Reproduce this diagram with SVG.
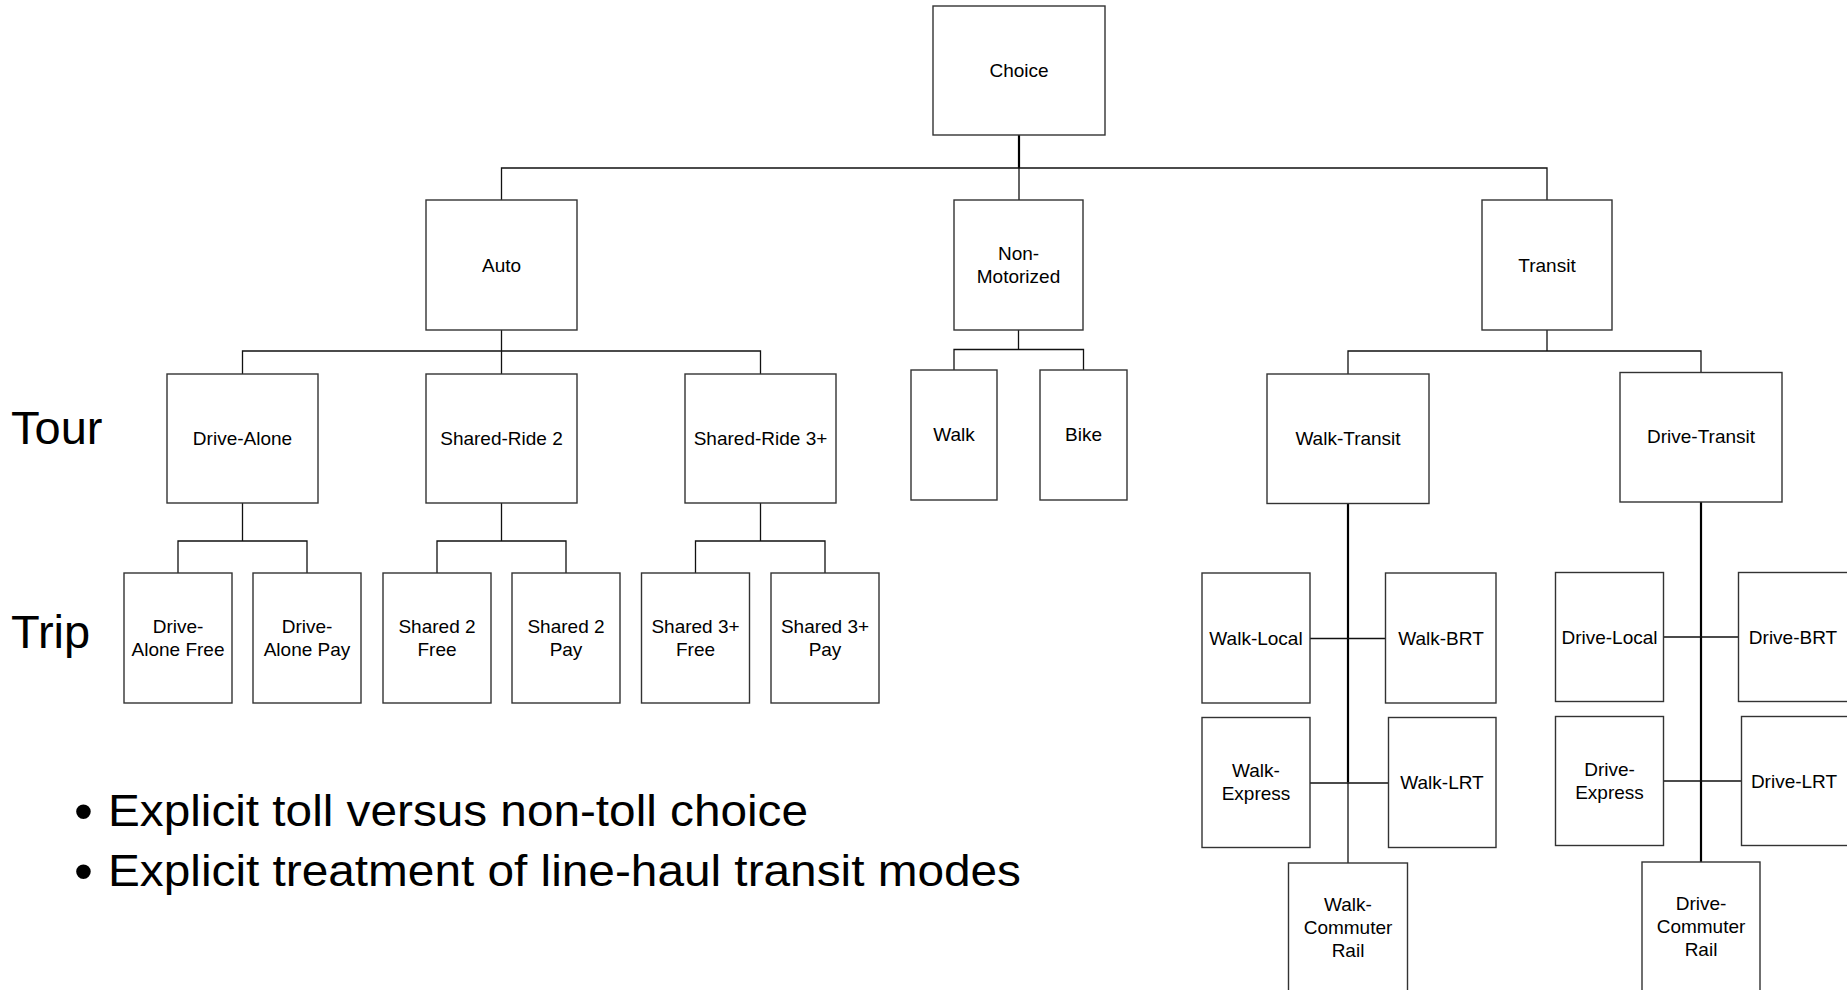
<svg xmlns="http://www.w3.org/2000/svg" width="1847" height="990" viewBox="0 0 1847 990">
<style>
.box{fill:#fff;stroke:#333;stroke-width:1.4}
.lbl{font-family:"Liberation Sans",Arial,sans-serif;font-size:19px;fill:#000;text-anchor:middle}
.big{font-family:"Liberation Sans",Arial,sans-serif;font-size:47px;fill:#000}
.bul{font-family:"Liberation Sans",Arial,sans-serif;font-size:45px;fill:#000}
.dot{font-family:"Liberation Sans",Arial,sans-serif;font-size:54px;fill:#000}
.ln{fill:none;stroke:#111;stroke-width:1.3}
.trunk{fill:none;stroke:#000;stroke-width:2.2}
</style>
<rect width="1847" height="990" fill="#fff"/>
<g id="connectors">
<path class="trunk" d="M1019 135V168"/>
<path class="ln" d="M501.5 200V168H1547V200M1019 168V200"/>
<path class="ln" d="M501.5 330V351M242.5 374V351H760.5V374M501.5 351V374"/>
<path class="ln" d="M1018.5 330V349.5M954 370V349.5H1083.5V370"/>
<path class="ln" d="M1547 330V351M1348 374V351H1701V372.5"/>
<path class="ln" d="M242.5 503V541M178 573V541H307V573"/>
<path class="ln" d="M501.5 503V541M437 573V541H566V573"/>
<path class="ln" d="M760.5 503V541M695.5 573V541H825V573"/>
<path class="trunk" d="M1348 503.5V782"/>
<path class="ln" d="M1348 782V863"/>
<path class="ln" d="M1310 638.5H1385.5M1310 783H1388.5"/>
<path class="trunk" d="M1701 502V862"/>
<path class="ln" d="M1663.5 637H1738.5M1663.5 781H1741.5"/>
</g>
<g id="choice"><rect class="box" x="933" y="6" width="172" height="129"/><text class="lbl" x="1019" y="77">Choice</text></g>
<g id="auto"><rect class="box" x="426" y="200" width="151" height="130"/><text class="lbl" x="501.5" y="272">Auto</text></g>
<g id="nonmotorized"><rect class="box" x="954" y="200" width="129" height="130"/><text class="lbl" x="1018.5" y="260">Non-</text><text class="lbl" x="1018.5" y="283">Motorized</text></g>
<g id="transit"><rect class="box" x="1482" y="200" width="130" height="130"/><text class="lbl" x="1547" y="272">Transit</text></g>
<g id="drive-alone"><rect class="box" x="167" y="374" width="151" height="129"/><text class="lbl" x="242.5" y="445">Drive-Alone</text></g>
<g id="shared-ride-2"><rect class="box" x="426" y="374" width="151" height="129"/><text class="lbl" x="501.5" y="445">Shared-Ride 2</text></g>
<g id="shared-ride-3"><rect class="box" x="685" y="374" width="151" height="129"/><text class="lbl" x="760.5" y="445">Shared-Ride 3+</text></g>
<g id="walk"><rect class="box" x="911" y="370" width="86" height="130"/><text class="lbl" x="954" y="441">Walk</text></g>
<g id="bike"><rect class="box" x="1040" y="370" width="87" height="130"/><text class="lbl" x="1083.5" y="441">Bike</text></g>
<g id="walk-transit"><rect class="box" x="1267" y="374" width="162" height="129.5"/><text class="lbl" x="1348" y="445">Walk-Transit</text></g>
<g id="drive-transit"><rect class="box" x="1620" y="372.5" width="162" height="129.5"/><text class="lbl" x="1701" y="443">Drive-Transit</text></g>
<g id="da-free"><rect class="box" x="124" y="573" width="108" height="130"/><text class="lbl" x="178" y="633">Drive-</text><text class="lbl" x="178" y="656">Alone Free</text></g>
<g id="da-pay"><rect class="box" x="253" y="573" width="108" height="130"/><text class="lbl" x="307" y="633">Drive-</text><text class="lbl" x="307" y="656">Alone Pay</text></g>
<g id="s2-free"><rect class="box" x="383" y="573" width="108" height="130"/><text class="lbl" x="437" y="633">Shared 2</text><text class="lbl" x="437" y="656">Free</text></g>
<g id="s2-pay"><rect class="box" x="512" y="573" width="108" height="130"/><text class="lbl" x="566" y="633">Shared 2</text><text class="lbl" x="566" y="656">Pay</text></g>
<g id="s3-free"><rect class="box" x="641.5" y="573" width="108" height="130"/><text class="lbl" x="695.5" y="633">Shared 3+</text><text class="lbl" x="695.5" y="656">Free</text></g>
<g id="s3-pay"><rect class="box" x="771" y="573" width="108" height="130"/><text class="lbl" x="825" y="633">Shared 3+</text><text class="lbl" x="825" y="656">Pay</text></g>
<g id="walk-local"><rect class="box" x="1202" y="573" width="108" height="130"/><text class="lbl" x="1256" y="645">Walk-Local</text></g>
<g id="walk-brt"><rect class="box" x="1385.5" y="573" width="110.5" height="130"/><text class="lbl" x="1441" y="645">Walk-BRT</text></g>
<g id="walk-express"><rect class="box" x="1202" y="717.5" width="108" height="130"/><text class="lbl" x="1256" y="777">Walk-</text><text class="lbl" x="1256" y="800">Express</text></g>
<g id="walk-lrt"><rect class="box" x="1388.5" y="717.5" width="107.5" height="130"/><text class="lbl" x="1442" y="789">Walk-LRT</text></g>
<g id="walk-commuter-rail"><rect class="box" x="1288.5" y="863" width="119" height="130"/><text class="lbl" x="1348" y="911">Walk-</text><text class="lbl" x="1348" y="934">Commuter</text><text class="lbl" x="1348" y="957">Rail</text></g>
<g id="drive-local"><rect class="box" x="1555.5" y="572.5" width="108" height="129"/><text class="lbl" x="1609.5" y="644">Drive-Local</text></g>
<g id="drive-brt"><rect class="box" x="1738.5" y="572.5" width="115" height="129"/><text class="lbl" x="1793" y="644">Drive-BRT</text></g>
<g id="drive-express"><rect class="box" x="1555.5" y="716.5" width="108" height="129"/><text class="lbl" x="1609.5" y="776">Drive-</text><text class="lbl" x="1609.5" y="799">Express</text></g>
<g id="drive-lrt"><rect class="box" x="1741.5" y="716.5" width="115" height="129"/><text class="lbl" x="1794" y="788">Drive-LRT</text></g>
<g id="drive-commuter-rail"><rect class="box" x="1642" y="862" width="118" height="130"/><text class="lbl" x="1701" y="910">Drive-</text><text class="lbl" x="1701" y="933">Commuter</text><text class="lbl" x="1701" y="956">Rail</text></g>
<text class="big" x="11" y="444">Tour</text>
<text class="big" x="11" y="648">Trip</text>
<text class="dot" x="74" y="830">•</text><text class="bul" x="108" y="826" textLength="700" lengthAdjust="spacingAndGlyphs">Explicit toll versus non-toll choice</text>
<text class="dot" x="74" y="890">•</text><text class="bul" x="108" y="886" textLength="913" lengthAdjust="spacingAndGlyphs">Explicit treatment of line-haul transit modes</text>
</svg>
